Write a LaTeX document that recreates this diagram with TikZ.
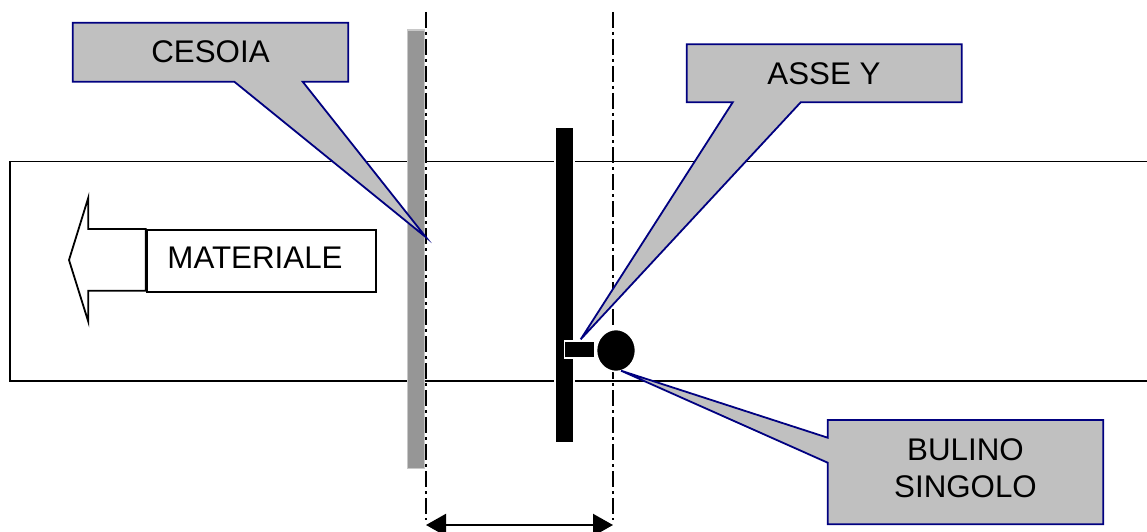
\documentclass[tikz,border=0pt]{standalone}
\usepackage{fontspec}
\setmainfont{Liberation Sans}
\usetikzlibrary{arrows.meta,shapes.geometric}
\definecolor{calloutfill}{RGB}{192,192,192}
\definecolor{calloutline}{RGB}{0,0,128}
\definecolor{bladegray}{RGB}{150,150,150}
\definecolor{bladeedge}{RGB}{200,200,200}
\begin{document}
\begin{tikzpicture}[x=1pt,y=-1pt,
  callout/.style={fill=calloutfill,draw=calloutline,line width=1.8pt,line join=miter},
  labeltext/.style={font=\fontsize{31.3}{37}\selectfont,inner sep=0pt,align=center},
  axisline/.style={line width=1.7pt,dash pattern=on 16pt off 4pt on 3pt off 4pt},
  outline/.style={line width=1.8pt},
  whiteedge/.style={fill=black,draw=white,line width=1.6pt}]
\useasboundingbox (0,0) rectangle (1147,532);

% material strip, open towards the right
\draw[outline] (1152,161.5) -- (10.3,161.5) -- (10.3,381) -- (1152,381);

% feed direction arrow with its label box
\draw[outline,fill=white,line join=miter] (69,260) -- (88.3,197.7) -- (88.3,229) -- (145.7,229)
  -- (145.7,290.7) -- (88.3,290.7) -- (88.3,321.7) -- cycle;
\node[draw,outline,fill=white,minimum width=229.3pt,minimum height=61.7pt,inner sep=0pt,anchor=north west]
  (matbox) at (145.7,229) {};
\node[labeltext] (matlabel) at (255,258) {MATERIALE};

% shear blade
\draw[fill=bladegray,draw=bladeedge,line width=1.2pt] (407.3,30) rectangle (424.8,468.5);

% reference axes
\coordinate (cutTop) at (425.7,12);
\coordinate (cutBot) at (425.7,520);
\coordinate (punchTop) at (613.3,12);
\coordinate (punchBot) at (613.3,520);
\draw[axisline] (cutTop) -- (cutBot);
\draw[axisline] (punchTop) -- (punchBot);

% Y axis carriage
\fill[white] (553.8,126) rectangle (575.2,444);
\fill[black] (556,128) rectangle (573,442);
\draw[whiteedge] (564.5,341) rectangle (595,358);
\node[ellipse,whiteedge,minimum width=39pt,minimum height=42pt,inner sep=0pt] (punch) at (616,350.5) {};

% pitch between shear and punch
\coordinate (dimL) at (426,525);
\coordinate (dimR) at (613,525);
\draw[line width=2.2pt,{Triangle[length=20pt,width=22pt]}-{Triangle[length=20pt,width=22pt]}] (dimL) -- (dimR);

% callouts
\coordinate (cesoiaTip) at (426,237.3);
\draw[callout] (72.7,22.7) -- (348.3,22.7) -- (348.3,81.7) -- (302.7,81.7) -- (cesoiaTip)
  -- (234.3,81.7) -- (72.7,81.7) -- cycle;
\node[labeltext] (cesoia) at (210.5,52) {CESOIA};

\coordinate (asseTip) at (580.7,339.3);
\draw[callout] (686.7,44.3) -- (961.7,44.3) -- (961.7,102.3) -- (800.7,102.3) -- (asseTip)
  -- (732.7,102.3) -- (686.7,102.3) -- cycle;
\node[labeltext] (asse) at (824,73.5) {ASSE Y};

\coordinate (bulinoTip) at (621,370.7);
\draw[callout] (827.7,420) -- (1103.3,420) -- (1103.3,524.3) -- (827.7,524.3) -- (827.7,462.7)
  -- (bulinoTip) -- (827.7,437.7) -- cycle;
\node[labeltext] (bulino) at (965.5,468) {BULINO\\SINGOLO};
\end{tikzpicture}
\end{document}
